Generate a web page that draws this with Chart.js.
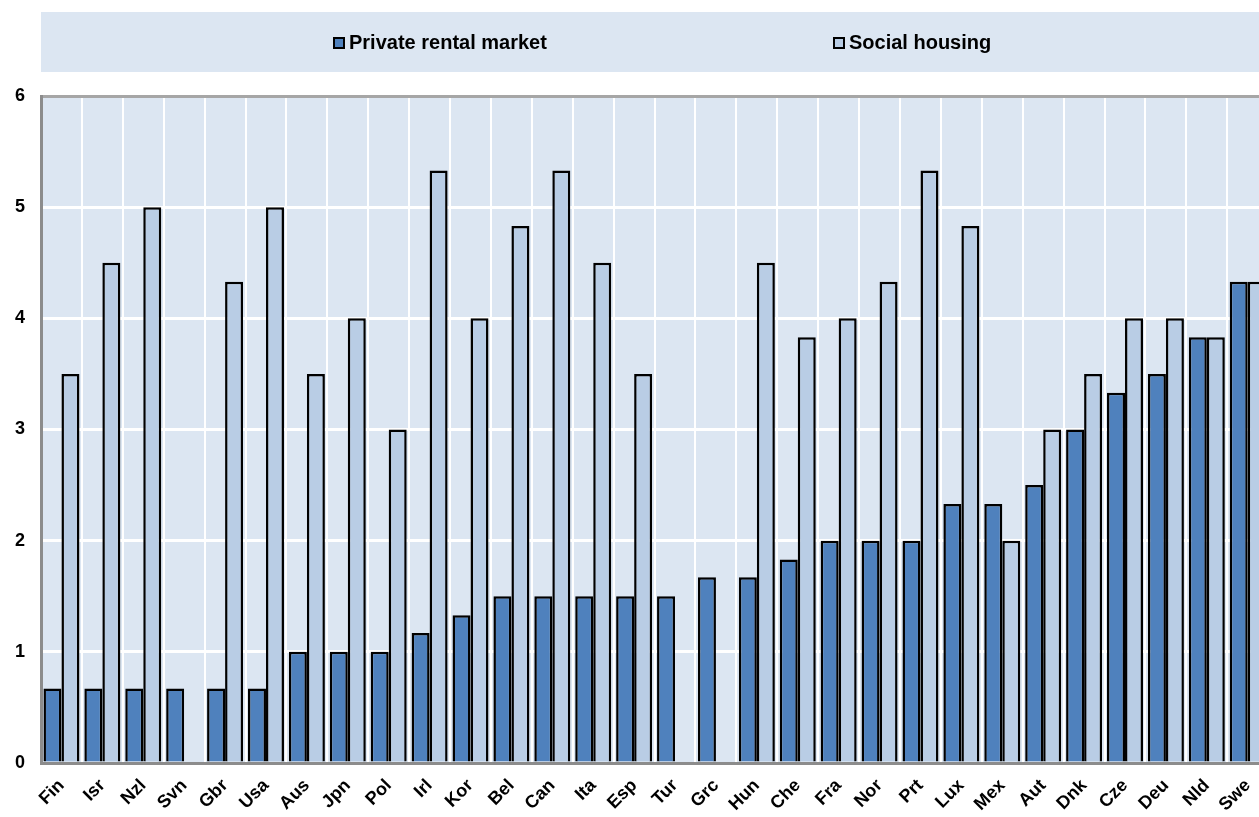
<!DOCTYPE html>
<html>
<head>
<meta charset="utf-8">
<script src="https://cdn.jsdelivr.net/npm/chart.js@4/dist/chart.umd.min.js"></script>
<style>
    html, body { margin: 0; padding: 0; background: #fff; overflow: hidden; }
    #wrap { width: 1275px; height: 817px; }
</style>
</head>
<body>
<div id="wrap"><canvas id="chart" width="1275" height="817"></canvas></div>
<script>
// Chart data
const countries = ['Fin', 'Isr', 'Nzl', 'Svn', 'Gbr', 'Usa', 'Aus', 'Jpn', 'Pol', 'Irl',
    'Kor', 'Bel', 'Can', 'Ita', 'Esp', 'Tur', 'Grc', 'Hun', 'Che', 'Fra',
    'Nor', 'Prt', 'Lux', 'Mex', 'Aut', 'Dnk', 'Cze', 'Deu', 'Nld', 'Swe'];
const privateRental = [0.67, 0.67, 0.67, 0.67, 0.67, 0.67, 1, 1, 1, 1.17,
    1.33, 1.5, 1.5, 1.5, 1.5, 1.5, 1.67, 1.67, 1.83, 2,
    2, 2, 2.33, 2.33, 2.5, 3, 3.33, 3.5, 3.83, 4.33];
const socialHousing = [3.5, 4.5, 5, null, 4.33, 5, 3.5, 4, 3, 5.33,
    4, 4.83, 5.33, 4.5, 3.5, null, null, 4.5, 3.83, 4,
    4.33, 5.33, 4.83, 2, 3, 3.5, 4, 4, 3.83, 4.33];
const yTicks = [0, 1, 2, 3, 4, 5, 6];

const bgBlue = '#dce6f2';
const darkBlue = '#4f81bd';
const lightBlue = '#b9cde5';
const axisGrey = '#8c8c8c';
const font = 'Liberation Sans, Arial, sans-serif';

// Light blue plot background + legend strip
const backgroundPlugin = {
    id: 'backgroundPlugin',
    beforeDraw(chart) {
        const ctx = chart.ctx;
        const area = chart.chartArea;
        ctx.save();
        ctx.fillStyle = bgBlue;
        ctx.fillRect(area.left, area.top, area.right - area.left, area.bottom - area.top);
        ctx.fillRect(41, 12, 1234, 60);
        ctx.restore();
    },
    afterDraw(chart) {
        const ctx = chart.ctx;
        const positions = [333, 833];
        ctx.save();
        ctx.font = 'bold 20px ' + font;
        ctx.textBaseline = 'middle';
        chart.data.datasets.forEach((ds, i) => {
            const x = positions[i];
            ctx.fillStyle = ds.backgroundColor;
            ctx.fillRect(x, 37, 12, 12);
            ctx.lineWidth = 2;
            ctx.strokeStyle = '#000';
            ctx.strokeRect(x + 1, 38, 10, 10);
            ctx.fillStyle = '#000';
            ctx.fillText(ds.label, x + 16, 43);
        });
        ctx.restore();
    }
};

new Chart(document.getElementById('chart').getContext('2d'), {
    type: 'bar',
    data: {
        labels: countries,
        datasets: [{
            label: 'Private rental market',
            data: privateRental,
            backgroundColor: darkBlue,
            borderColor: '#000',
            borderWidth: 2.5,
            borderSkipped: 'bottom'
        }, {
            label: 'Social housing',
            data: socialHousing,
            backgroundColor: lightBlue,
            borderColor: '#000',
            borderWidth: 2.5,
            borderSkipped: 'bottom'
        }]
    },
    options: {
        responsive: false,
        animation: false,
        categoryPercentage: 0.88,
        barPercentage: 1,
        layout: {
            padding: { top: 96, left: 0, right: 0, bottom: 0 }
        },
        plugins: {
            legend: { display: false },
            tooltip: { enabled: false }
        },
        scales: {
            x: {
                offset: true,
                grid: {
                    offset: true,
                    color: '#ffffff',
                    lineWidth: 2,
                    drawTicks: false
                },
                border: { color: axisGrey, width: 3 },
                ticks: {
                    color: '#000',
                    font: { family: font, size: 18, weight: 'bold' },
                    maxRotation: 45,
                    minRotation: 45,
                    autoSkip: false,
                    padding: 12
                },
                afterFit(scale) { scale.height = 54; }
            },
            y: {
                min: 0,
                max: 6,
                afterBuildTicks(scale) {
                    scale.ticks = yTicks.map(v => ({ value: v }));
                },
                grid: {
                    color: ctx => ctx.tick && ctx.tick.value === 6 ? '#a6a6a6' : '#ffffff',
                    lineWidth: 3,
                    drawTicks: false
                },
                border: { color: axisGrey, width: 3 },
                ticks: {
                    color: '#000',
                    font: { family: font, size: 18, weight: 'bold' },
                    padding: 16
                },
                afterFit(scale) { scale.width = 41; }
            }
        }
    },
    plugins: [backgroundPlugin]
});
</script>
</body>
</html>
